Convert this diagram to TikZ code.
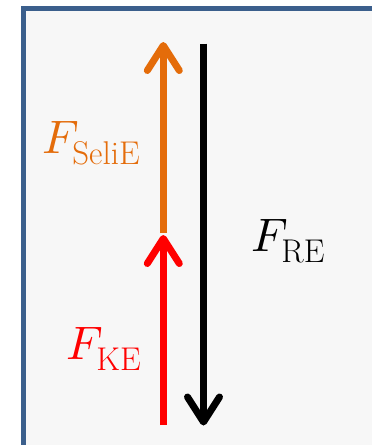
\documentclass[tikz,border=0pt]{standalone}
\usepackage{unicode-math}
\setmathfont{Latin Modern Math}
\usetikzlibrary{arrows.meta}
\definecolor{frameblue}{RGB}{59,95,140}
\definecolor{panelgray}{RGB}{247,247,247}
\definecolor{forceorange}{RGB}{228,108,10}

\begin{document}
\begin{tikzpicture}[x=1pt,y=-1pt,
    force/.style={line width=7pt,-{Straight Barb[round,length=25pt,width=32pt]}},
    lbl/.style={inner sep=0pt,anchor=base west,font=\fontsize{47}{50}\selectfont}]
  \useasboundingbox (0,0) rectangle (372,445);
  \clip (0,0) rectangle (372,445);
  % panel
  \draw[frameblue,line width=5pt,fill=panelgray] (23.5,8.5) rectangle (400,470);
  % arrow ends
  \coordinate (keBot) at (163.3,425);
  \coordinate (keTop) at (163.3,235);
  \coordinate (selieBot) at (163.3,233);
  \coordinate (selieTop) at (163.3,42);
  \coordinate (reTop) at (203.5,43.5);
  \coordinate (reBot) at (203.5,425.5);
  % forces
  \draw[force,forceorange] (selieBot) -- (selieTop);
  \draw[force,red] (keBot) -- (keTop);
  \draw[force,black] (reTop) -- (reBot);
  % labels
  \node[lbl,text=forceorange] (selie) at (42,153) {$F_{\mathrm{SeliE}}$};
  \node[lbl,text=red] (ke) at (66,359) {$F_{\mathrm{KE}}$};
  \node[lbl] (re) at (251,251) {$F_{\mathrm{RE}}$};
\end{tikzpicture}
\end{document}
